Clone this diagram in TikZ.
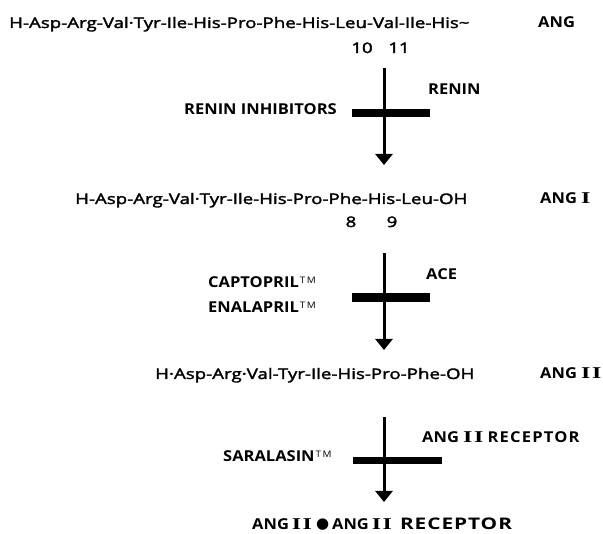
\documentclass[tikz,border=0pt]{standalone}
\usepackage{fontspec}
\usetikzlibrary{arrows.meta}
\setmainfont{Open Sans}
\newfontfamily\pep{Open Sans}[FakeStretch=1.29, FakeBold=2.2]
\newfontfamily\lab{Open Sans}[FakeStretch=1.1]
\newfontfamily\labw{Open Sans}[FakeStretch=1.1, LetterSpace=8]
\newfontfamily\labww{Open Sans}[FakeStretch=1.3, LetterSpace=6]
\newfontfamily\rom{Liberation Serif}[FakeStretch=1.45]
\newfontfamily\dvsans{DejaVu Sans}
\newcommand{\romI}{{\rom\bfseries\fontsize{16.5}{17}\selectfont I}}
\newcommand{\romII}{{\rom\bfseries\fontsize{16.5}{17}\selectfont I\kern1.5pt I}}
\newcommand{\tmk}{{\lab\mdseries\fontsize{9}{9}\selectfont\kern1pt\raisebox{4.5pt}{T\kern1.5pt M}}}
\tikzset{
  pept/.style={anchor=base west, inner sep=0pt, font=\pep\fontsize{14.5}{16}\selectfont},
  num/.style={anchor=base, inner sep=0pt, font=\pep\fontsize{14.5}{16}\selectfont},
  lbl/.style={anchor=base west, inner sep=0pt, font=\lab\bfseries\fontsize{15}{17}\selectfont},
  lble/.style={lbl, anchor=base east},
  barbox/.style={fill=black, draw=none, inner sep=0pt, minimum width=#1},
  flow/.style={line width=3pt, -{Triangle[length=11pt,width=17pt]}}
}
\begin{document}
\begin{tikzpicture}[x=1pt, y=-1pt]
\useasboundingbox (0,0) rectangle (603,534);
% row 1
\node[pept] (ang) at (9,28) {H-Asp-Arg-Val·Tyr-Ile-His-Pro-Phe-His-Leu-Val-Ile-His\char"007E};
\node[lbl] (angl) at (538,28) {ANG};
\node[num] (n10) at (362,53) {10};
\node[num] (n11) at (399,53) {11};
\coordinate (s1) at (384,68);
\coordinate (e1) at (384,165);
\draw[flow] (s1) -- (e1);
\node[barbox=78pt, minimum height=8pt] (bar1) at (391,113) {};
\node[lble] (reninh) at (337,115) {RENIN INHIBITORS};
\node[lbl] (renin) at (428,95) {RENIN};
% row 2
\node[pept] (ang1) at (75,204) {H-Asp-Arg-Val·Tyr-Ile-His-Pro-Phe-His-Leu-OH};
\node[lbl] (ang1l) at (540,204) {ANG \romI};
\node[num] (n8) at (351,227) {8};
\node[num] (n9) at (392,227) {9};
\coordinate (s2) at (384,253);
\coordinate (e2) at (384,350);
\draw[flow] (s2) -- (e2);
\node[barbox=78pt, minimum height=9pt] (bar2) at (391,297.5) {};
\node[lbl] (ace) at (426,280) {ACE};
\node[lbl] (capt) at (208,288) {CAPTOPRIL\tmk};
\node[lbl] (enal) at (208,313) {ENALAPRIL\tmk};
% row 3
\node[pept] (ang2) at (155,379) {H·Asp-Arg·Val-Tyr-Ile-His-Pro-Phe-OH};
\node[lbl] (ang2l) at (540,379) {ANG \romII};
\coordinate (s3) at (384,417);
\coordinate (e3) at (384,502);
\draw[flow] (s3) -- (e3);
\node[barbox=89pt, minimum height=7pt] (bar3) at (397.5,460.5) {};
\node[lbl] (rec) at (422,443) {ANG \romII\ {\labw RECEPTOR}};
\node[lbl] (sara) at (223,462) {SARALASIN\tmk};
% bottom
\node[lbl] (cplx) at (252,530) {ANG\kern3pt\romII\kern4pt\raisebox{1.5pt}{\dvsans\mdseries\fontsize{15}{15}\selectfont ●}\kern3pt ANG\kern3pt\romII\kern8pt{\labww\fontsize{16}{17}\selectfont RECEPTOR}};
\end{tikzpicture}
\end{document}
